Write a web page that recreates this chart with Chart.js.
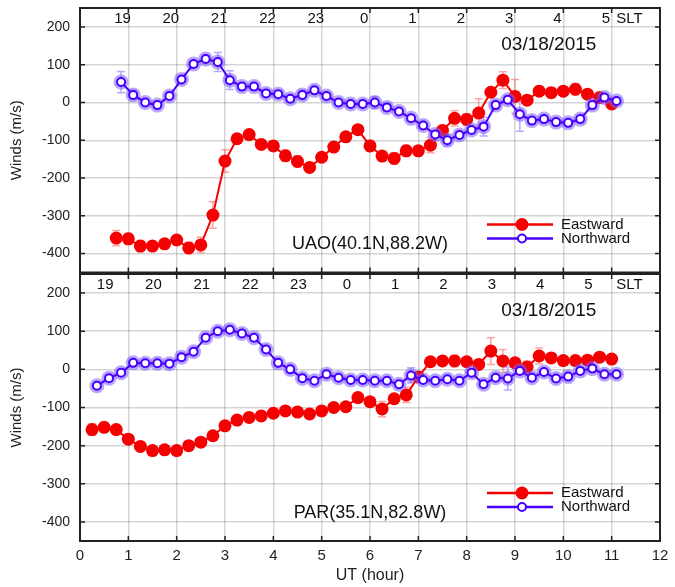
<!DOCTYPE html>
<html>
<head>
<meta charset="utf-8">
<script src="https://cdn.jsdelivr.net/npm/chart.js@4.4.1/dist/chart.umd.min.js"></script>
<style>
  body { margin: 0; background: #fff; }
  #wrap { position: relative; width: 675px; height: 587px; }
  canvas { position: absolute; left: 0; }
  #topChart { top: 0; }
  #botChart { top: 266px; }
</style>
</head>
<body>
<div id="wrap">
  <canvas id="topChart" width="675" height="280"></canvas>
  <canvas id="botChart" width="675" height="321"></canvas>
</div>
<script>
// --- UAO (top panel) ---
const uaoEastUT = [0.75,1,1.25,1.5,1.75,2,2.25,2.5,2.75,3,3.25,3.5,3.75,4,4.25,4.5,4.75,5,5.25,5.5,5.75,6,6.25,6.5,6.75,7,7.25,7.5,7.75,8,8.25,8.5,8.75,9,9.25,9.5,9.75,10,10.25,10.5,10.75,11];
const uaoEast = [-359,-361,-380,-380,-374,-364,-385,-377,-298,-155,-96,-85,-111,-115,-141,-156,-172,-145,-118,-91,-72,-115,-142,-148,-128,-128,-113,-74,-42,-45,-28,27,59,16,6,30,26,30,35,22,13,-4];
const uaoEastErr = [20,15,15,10,10,10,15,20,35,30,10,10,10,10,15,15,10,10,10,10,10,15,10,15,15,10,20,10,20,15,38,10,22,45,10,10,10,10,15,10,10,10];

const uaoNorthUT = [0.85,1.1,1.35,1.6,1.85,2.1,2.35,2.6,2.85,3.1,3.35,3.6,3.85,4.1,4.35,4.6,4.85,5.1,5.35,5.6,5.85,6.1,6.35,6.6,6.85,7.1,7.35,7.6,7.85,8.1,8.35,8.6,8.85,9.1,9.35,9.6,9.85,10.1,10.35,10.6,10.85,11.1];
const uaoNorth = [54,20,0,-7,17,61,102,115,107,59,42,42,24,22,10,20,32,17,0,-4,-4,0,-13,-24,-42,-61,-85,-100,-86,-73,-64,-7,7,-31,-48,-44,-52,-54,-44,-7,13,4];
const uaoNorthErr = [28,12,8,8,8,8,8,10,25,25,8,8,8,8,8,12,8,8,8,8,8,15,10,8,8,8,8,15,8,8,25,8,10,45,8,8,8,8,8,8,8,8];

// --- PAR (bottom panel) ---
const parEastUT = [0.25,0.5,0.75,1,1.25,1.5,1.75,2,2.25,2.5,2.75,3,3.25,3.5,3.75,4,4.25,4.5,4.75,5,5.25,5.5,5.75,6,6.25,6.5,6.75,7,7.25,7.5,7.75,8,8.25,8.5,8.75,9,9.25,9.5,9.75,10,10.25,10.5,10.75,11];
const parEast = [-158,-152,-158,-183,-202,-213,-211,-213,-200,-191,-174,-148,-133,-126,-122,-115,-109,-112,-117,-109,-100,-98,-74,-85,-104,-77,-67,-20,20,22,22,20,13,48,22,17,6,35,30,23,23,24,32,27];
const parEastErr = [15,8,8,10,8,8,8,8,8,8,8,8,8,8,8,8,8,8,8,8,8,8,8,10,20,8,20,10,8,10,15,8,8,35,30,8,15,21,8,8,8,8,8,8];

const parNorthUT = [0.35,0.6,0.85,1.1,1.35,1.6,1.85,2.1,2.35,2.6,2.85,3.1,3.35,3.6,3.85,4.1,4.35,4.6,4.85,5.1,5.35,5.6,5.85,6.1,6.35,6.6,6.85,7.1,7.35,7.6,7.85,8.1,8.35,8.6,8.85,9.1,9.35,9.6,9.85,10.1,10.35,10.6,10.85,11.1];
const parNorth = [-43,-23,-9,17,16,16,15,32,46,83,100,104,94,83,52,17,0,-23,-30,-13,-22,-28,-28,-30,-30,-39,-16,-28,-30,-26,-30,-9,-39,-22,-24,-4,-22,-7,-24,-19,-4,2,-13,-13];
const parNorthErr = [6,6,6,6,6,6,6,6,6,6,6,6,6,6,6,6,6,6,6,6,6,6,6,6,6,6,20,6,6,6,6,6,6,6,30,6,6,6,6,6,6,6,6,6];

// --- axes ---
const yTicks = [-400,-300,-200,-100,0,100,200];
const xTicks = [0,1,2,3,4,5,6,7,8,9,10,11,12];
const sltLabels = ['19','20','21','22','23','0','1','2','3','4','5'];

const RED = 'rgb(245,0,0)';
const BLUE = 'rgb(72,0,255)';
const FONT = "'Liberation Sans', Arial, Helvetica, sans-serif";
const GRID = 'rgba(0,0,0,0.17)';

const xy = (xs, ys) => xs.map((x, i) => ({ x: x, y: ys[i] }));

function drawErrors(ctx, xs, ys, errs, sx, sy, color) {
  ctx.save();
  ctx.strokeStyle = color;
  ctx.lineWidth = 1.5;
  xs.forEach((t, i) => {
    const px = sx.getPixelForValue(t);
    const y1 = sy.getPixelForValue(ys[i] + errs[i]);
    const y2 = sy.getPixelForValue(ys[i] - errs[i]);
    ctx.beginPath();
    ctx.moveTo(px, y1); ctx.lineTo(px, y2);
    ctx.moveTo(px - 4, y1); ctx.lineTo(px + 4, y1);
    ctx.moveTo(px - 4, y2); ctx.lineTo(px + 4, y2);
    ctx.stroke();
  });
  ctx.restore();
}

function panelPlugin(p) {
  return {
    id: 'panel',
    beforeDatasetsDraw(chart) {
      const sx = chart.scales.x, sy = chart.scales.y, ctx = chart.ctx;
      drawErrors(ctx, p.eastUT, p.east, p.eastErr, sx, sy, 'rgba(255,90,90,0.55)');
      drawErrors(ctx, p.northUT, p.north, p.northErr, sx, sy, 'rgba(120,100,255,0.55)');
    },
    afterDraw(chart) {
      const ctx = chart.ctx, a = chart.chartArea;
      const sx = chart.scales.x, sy = chart.scales.y;
      ctx.save();
      // khung + vạch chia bên trong
      ctx.strokeStyle = '#222';
      ctx.lineWidth = 2;
      ctx.strokeRect(a.left, a.top, a.right - a.left, a.bottom - a.top);
      ctx.lineWidth = 1.5;
      ctx.beginPath();
      xTicks.forEach(v => {
        const px = sx.getPixelForValue(v);
        ctx.moveTo(px, a.bottom); ctx.lineTo(px, a.bottom - 5);
        ctx.moveTo(px, a.top); ctx.lineTo(px, a.top + 5);
      });
      yTicks.forEach(v => {
        const py = sy.getPixelForValue(v);
        ctx.moveTo(a.left, py); ctx.lineTo(a.left + 5, py);
        ctx.moveTo(a.right, py); ctx.lineTo(a.right - 5, py);
      });
      ctx.stroke();

      // SLT labels
      ctx.fillStyle = '#111';
      ctx.font = '15px ' + FONT;
      ctx.textAlign = 'center';
      ctx.textBaseline = 'middle';
      sltLabels.forEach((s, i) => {
        ctx.fillText(s, sx.getPixelForValue(p.sltStart + i), a.top + 11);
      });
      ctx.fillText('SLT', sx.getPixelForValue(11.37), a.top + 11);

      // date + station
      ctx.font = '19px ' + FONT;
      ctx.fillText('03/18/2015', sx.getPixelForValue(9.7), a.top + 37);
      ctx.font = '18px ' + FONT;
      ctx.fillText(p.station, sx.getPixelForValue(6.0), a.bottom - 28);

      // legend
      const lx0 = a.right - 173, lx1 = a.right - 107, mx = a.right - 138;
      const ey = a.bottom - 48, ny = a.bottom - 34;
      ctx.lineWidth = 2.5;
      ctx.strokeStyle = RED;
      ctx.beginPath(); ctx.moveTo(lx0, ey); ctx.lineTo(lx1, ey); ctx.stroke();
      ctx.fillStyle = RED;
      ctx.beginPath(); ctx.arc(mx, ey, 6.5, 0, Math.PI * 2); ctx.fill();
      ctx.strokeStyle = BLUE;
      ctx.beginPath(); ctx.moveTo(lx0, ny); ctx.lineTo(lx1, ny); ctx.stroke();
      ctx.fillStyle = '#fff';
      ctx.lineWidth = 2;
      ctx.beginPath(); ctx.arc(mx, ny, 4, 0, Math.PI * 2); ctx.fill(); ctx.stroke();
      ctx.fillStyle = '#111';
      ctx.font = '15px ' + FONT;
      ctx.textAlign = 'left';
      ctx.fillText('Eastward', a.right - 99, ey);
      ctx.fillText('Northward', a.right - 99, ny);
      ctx.restore();
    }
  };
}

function makeChart(id, p) {
  const ctx = document.getElementById(id).getContext('2d');
  return new Chart(ctx, {
    type: 'line',
    data: {
      datasets: [
        {
          label: 'Eastward', data: xy(p.eastUT, p.east),
          borderColor: RED, backgroundColor: RED, borderWidth: 2,
          pointRadius: 6.5, pointBorderWidth: 0, pointBackgroundColor: RED, order: 2
        },
        {
          label: 'halo', data: xy(p.northUT, p.north), showLine: false,
          pointRadius: 7.5, pointBorderWidth: 0, pointBackgroundColor: 'rgba(125,95,255,0.55)', order: 1
        },
        {
          label: 'Northward', data: xy(p.northUT, p.north),
          borderColor: BLUE, borderWidth: 2,
          pointRadius: 4, pointBorderWidth: 2, pointBorderColor: BLUE, pointBackgroundColor: '#fff', order: 0
        }
      ]
    },
    options: {
      responsive: false,
      animation: false,
      events: [],
      layout: { padding: { left: 0, right: 15, top: 8, bottom: 0 } },
      plugins: { legend: { display: false }, tooltip: { enabled: false } },
      scales: {
        x: {
          type: 'linear', min: 0, max: 12,
          afterBuildTicks: s => { s.ticks = xTicks.map(v => ({ value: v })); },
          afterFit: s => { s.height = p.bottom ? 46 : 6; s.paddingLeft = 0; s.paddingRight = 0; },
          grid: { color: GRID, lineWidth: 1.5, drawTicks: false },
          border: { display: false },
          ticks: { display: p.bottom, padding: 6, color: '#222', font: { family: FONT, size: 15 } },
          title: { display: p.bottom, text: 'UT (hour)', color: '#222', padding: { top: 0, bottom: 2 }, font: { family: FONT, size: 16 } }
        },
        y: {
          min: -450, max: 250,
          afterBuildTicks: s => { s.ticks = yTicks.map(v => ({ value: v })); },
          afterFit: s => { s.width = 80; s.paddingTop = 0; s.paddingBottom = 0; },
          grid: { color: GRID, lineWidth: 1.5, drawTicks: false },
          border: { display: false },
          ticks: { padding: 10, color: '#222', font: { family: FONT, size: 14 } },
          title: { display: true, text: 'Winds (m/s)', color: '#222', padding: { top: 8, bottom: 0 }, font: { family: FONT, size: 15 } }
        }
      }
    },
    plugins: [panelPlugin(p)]
  });
}

makeChart('topChart', {
  eastUT: uaoEastUT, east: uaoEast, eastErr: uaoEastErr,
  northUT: uaoNorthUT, north: uaoNorth, northErr: uaoNorthErr,
  sltStart: 0.88, station: 'UAO(40.1N,88.2W)', bottom: false
});
makeChart('botChart', {
  eastUT: parEastUT, east: parEast, eastErr: parEastErr,
  northUT: parNorthUT, north: parNorth, northErr: parNorthErr,
  sltStart: 0.52, station: 'PAR(35.1N,82.8W)', bottom: true
});
</script>
</body>
</html>
